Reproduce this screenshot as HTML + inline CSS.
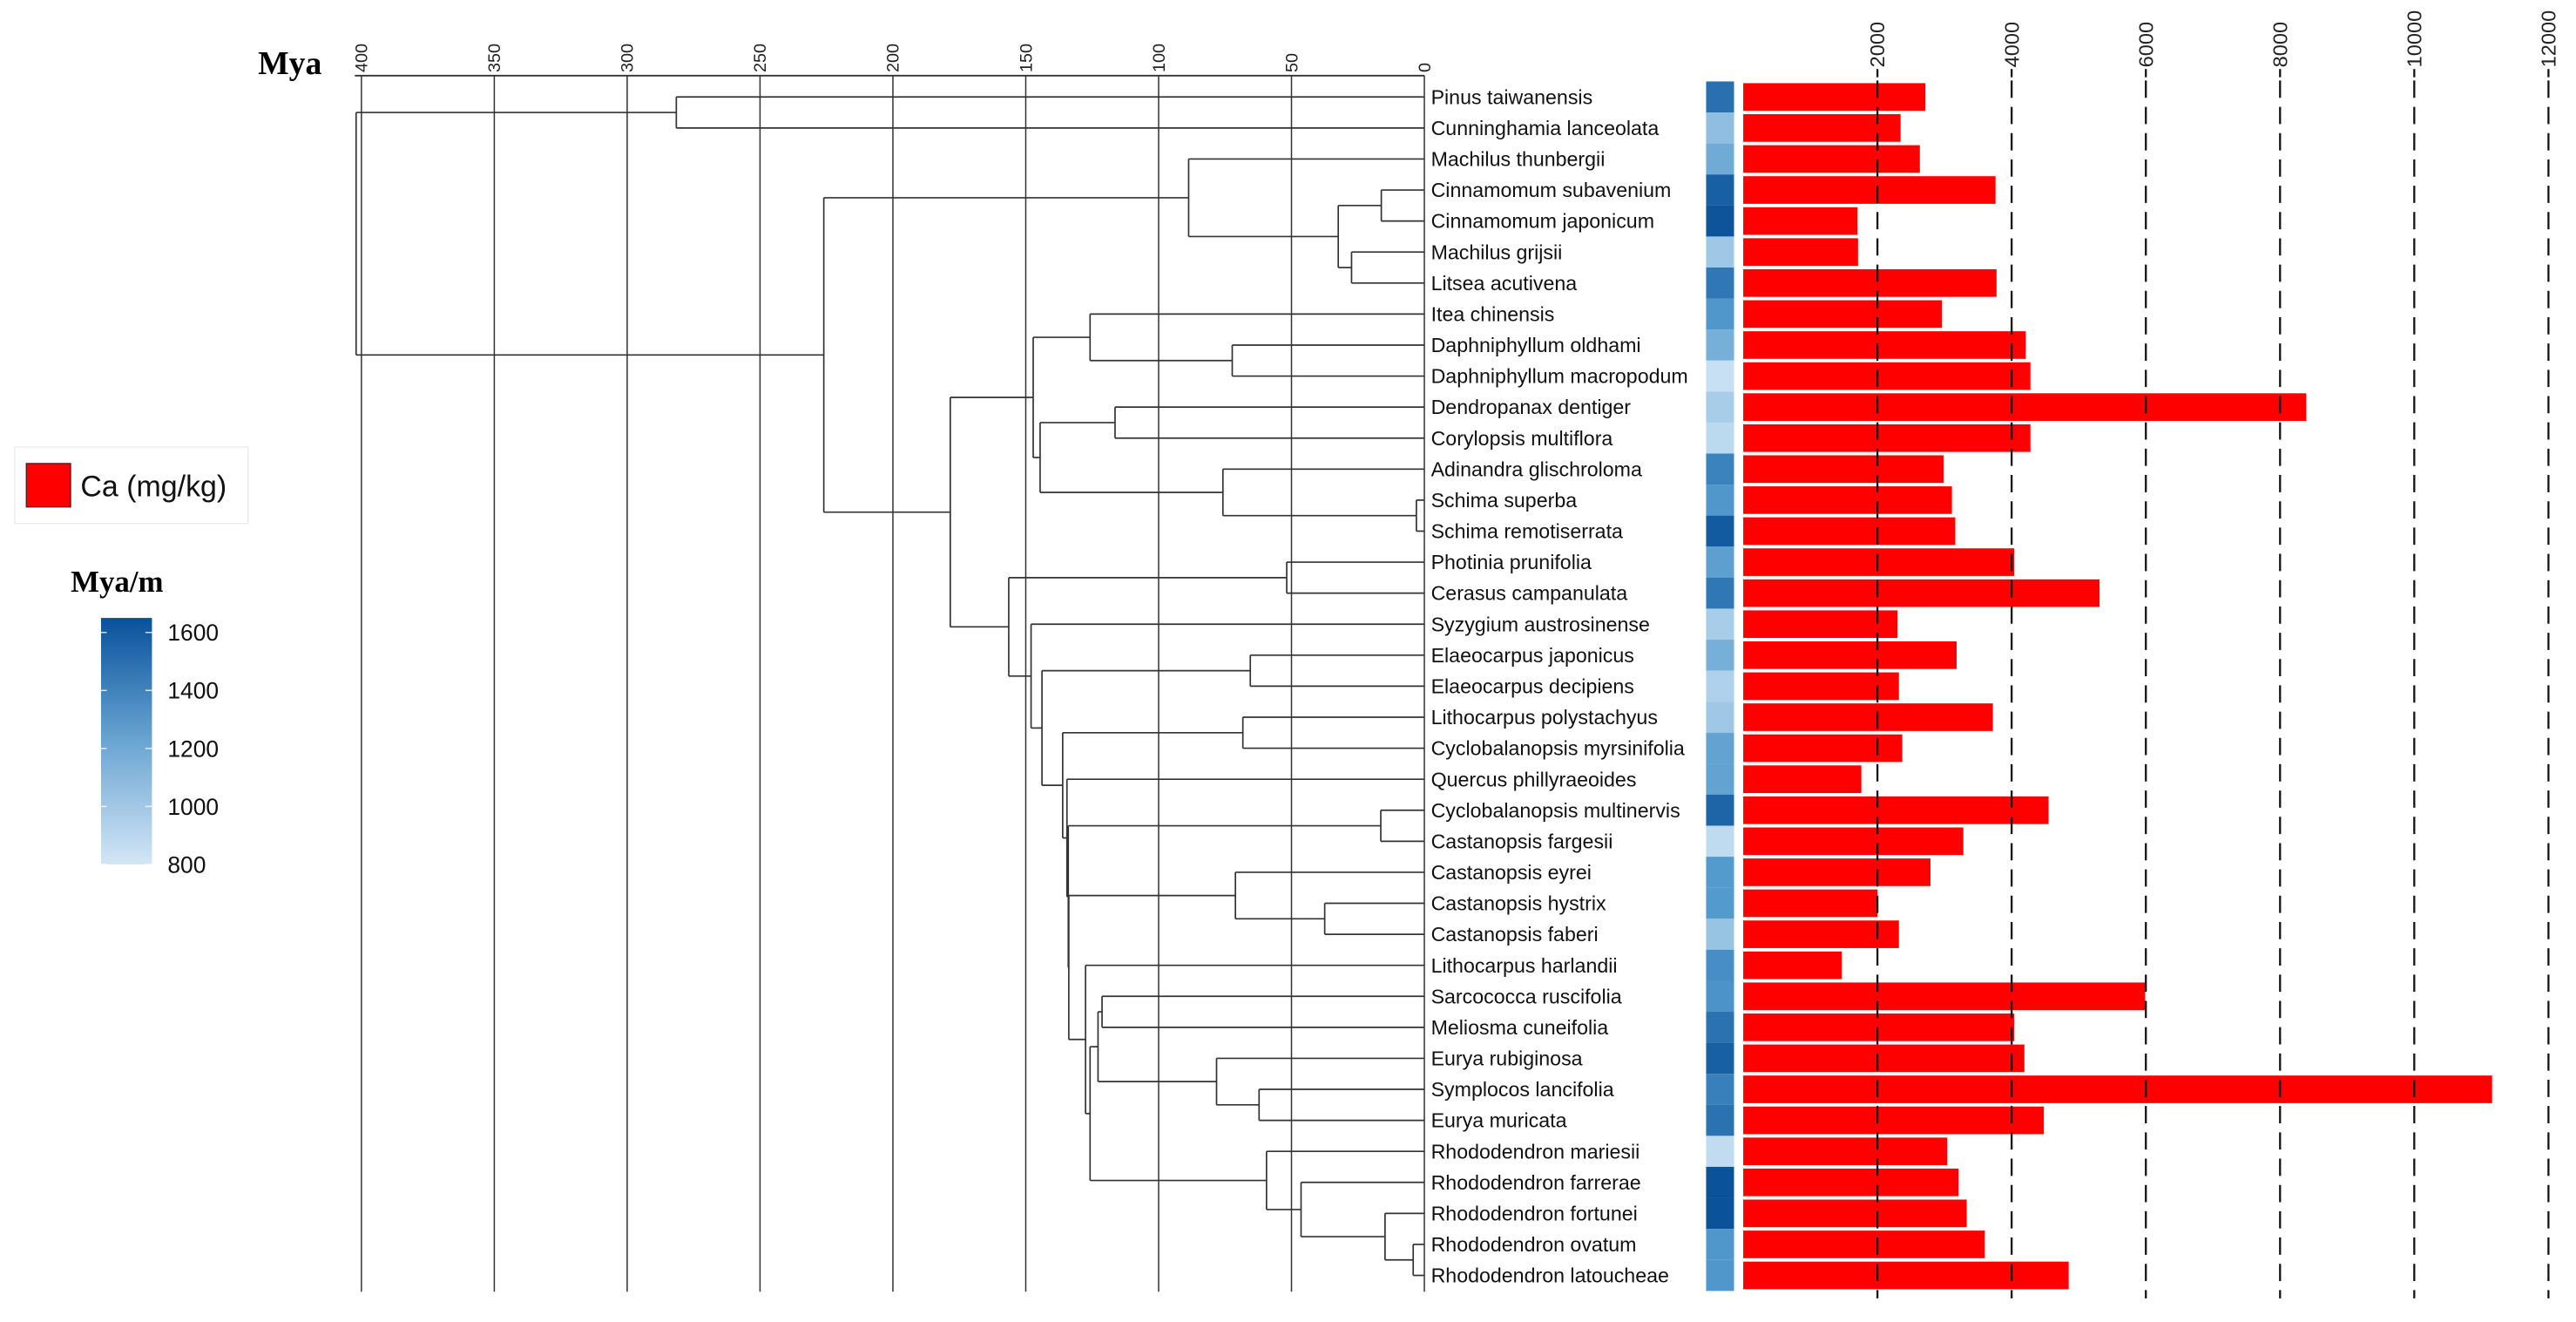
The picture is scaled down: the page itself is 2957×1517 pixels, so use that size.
<!DOCTYPE html>
<html><head><meta charset="utf-8">
<style>
html,body{margin:0;padding:0;background:#fff;}
svg{display:block;}
text{font-family:"Liberation Sans",Arial,sans-serif;}
</style></head>
<body>
<svg id="chart" xmlns="http://www.w3.org/2000/svg" width="2957" height="1517" viewBox="0 0 1568 804.4">
  <rect x="0" y="0" width="1568" height="804.4" fill="#fff"/>
  <g id="grid"></g>
  <g id="tree"></g>
  <g id="labels"></g>
  <g id="heat"></g>
  <g id="bars"></g>
  <g id="baraxis"></g>
  <text x="157" y="45" font-weight="bold" font-size="20" style="font-family:'Liberation Serif',serif">Mya</text>

  <g>
    <rect x="9" y="272" width="142" height="46.5" fill="#fff" stroke="#ececec" stroke-width="0.8"/>
    <rect x="16" y="282" width="27" height="26.5" fill="#ff0000" stroke="#222" stroke-width="0.6"/>
    <text x="49" y="302" font-size="18" fill="#111">Ca (mg/kg)</text>
  </g>

  <defs>
    <linearGradient id="cbar" x1="0" y1="1" x2="0" y2="0">
      <stop offset="0" stop-color="#d3e6f6"/>
      <stop offset="0.5" stop-color="#6aa5d2"/>
      <stop offset="1" stop-color="#08519c"/>
    </linearGradient>
  </defs>
  <g id="colorbar">
    <text x="43" y="360" font-size="18.5" font-weight="bold" style="font-family:'Liberation Serif',serif">Mya/m</text>
    <rect x="61.5" y="376" width="31" height="150" fill="url(#cbar)"/>
  </g>
</svg>
<script>
const NS='http://www.w3.org/2000/svg';
const species=["Pinus taiwanensis","Cunninghamia lanceolata","Machilus thunbergii","Cinnamomum subavenium","Cinnamomum japonicum","Machilus grijsii","Litsea acutivena","Itea chinensis","Daphniphyllum oldhami","Daphniphyllum macropodum","Dendropanax dentiger","Corylopsis multiflora","Adinandra glischroloma","Schima superba","Schima remotiserrata","Photinia prunifolia","Cerasus campanulata","Syzygium austrosinense","Elaeocarpus japonicus","Elaeocarpus decipiens","Lithocarpus polystachyus","Cyclobalanopsis myrsinifolia","Quercus phillyraeoides","Cyclobalanopsis multinervis","Castanopsis fargesii","Castanopsis eyrei","Castanopsis hystrix","Castanopsis faberi","Lithocarpus harlandii","Sarcococca ruscifolia","Meliosma cuneifolia","Eurya rubiginosa","Symplocos lancifolia","Eurya muricata","Rhododendron mariesii","Rhododendron farrerae","Rhododendron fortunei","Rhododendron ovatum","Rhododendron latoucheae"];
const caValues=[2715,2345,2632,3760,1704,1711,3775,2960,4210,4280,8390,4280,2985,3110,3160,4040,5310,2300,3180,2320,3720,2370,1760,4550,3280,2790,2000,2320,1470,5990,4040,4190,11160,4480,3040,3210,3330,3600,4850];
const myaPerM=[1450,1000,1100,1550,1620,950,1400,1200,1080,820,920,860,1330,1200,1580,1160,1400,920,1080,900,950,1140,1140,1520,850,1190,1190,970,1260,1230,1440,1550,1350,1440,840,1640,1640,1200,1200];
const myaTicks=[400,350,300,250,200,150,100,50,0];
const caTicks=[2000,4000,6000,8000,10000,12000];
const cbarTicks=[1600,1400,1200,1000,800];
// tree nodes: [age, child, child] ; numbers = leaf indices
const laur=[88.7,2,[32.4,[16.2,3,4],[27.4,5,6]]];
const cladeA=[147.2,[125.8,7,[72.3,8,9]],[144.6,[116.4,10,11],[75.8,12,[3,13,14]]]];
const rhodo=[59.4,34,[46.4,35,[14.8,36,[4.2,37,38]]]];
const eric=[125.8,[122.8,[121.3,29,30],[78.2,31,[62.2,32,33]]],rhodo];
const n133=[133.8,[71.1,25,[37.5,26,27]],[127.5,28,eric]];
const n134=[134.5,22,[134,[16.4,23,24],n133]];
const n136=[136.1,[68.3,20,21],n134];
const cladeB=[156.4,[51.8,15,16],[148,17,[143.9,[65.5,18,19],n136]]];
const tree=[402,[281.5,0,1],[226,laur,[178.4,cladeA,cladeB]]];

const xMya=a=>867-a*1.6175;
const yRow=i=>59+i*18.87;
const xCa=v=>1061.1+v*0.040845;
function mk(tag,attrs,parent){const e=document.createElementNS(NS,tag);for(const k in attrs)e.setAttribute(k,attrs[k]);parent.appendChild(e);return e;}
const G=id=>document.getElementById(id);

const grid=G('grid');
const ax=mk('line',{x1:216,y1:46,x2:867,y2:46,stroke:'#333','stroke-width':1},grid);


myaTicks.forEach(t=>{
  const x=xMya(t);
  const l=mk('line',{x1:x,y1:46,x2:x,y2:786,stroke:'#333','stroke-width':0.8},grid);
  
  
  const tx=mk('text',{x:0,y:0,'font-size':10.5,fill:'#222',transform:'translate('+(x+3.6)+',44) rotate(-90)'},grid);
  tx.textContent=t;
  
  
});

const tg=G('tree');
function layout(n){
  if(typeof n==='number') return {x:867,y:yRow(n)};
  const kids=n.slice(1).map(layout);
  const x=xMya(n[0]);
  const y0=kids[0].y,y1=kids[kids.length-1].y;
  const v=mk('line',{x1:x,y1:y0,x2:x,y2:y1,stroke:'#333','stroke-width':0.9},tg);
  
  
  kids.forEach(k=>{
    const h=mk('line',{x1:x,y1:k.y,x2:k.x,y2:k.y,stroke:'#333','stroke-width':0.9},tg);
    
    
  });
  return {x:x,y:(y0+y1)/2};
}
layout(tree);

const lg=G('labels'),hg=G('heat'),bg=G('bars');
function heatColor(v){
  const stops=[[800,[206,228,245]],[1200,[80,152,204]],[1650,[8,80,152]]];
  v=Math.max(800,Math.min(1650,v));
  let a=stops[0],b=stops[1];
  if(v>1200){a=stops[1];b=stops[2];}
  const t=(v-a[0])/(b[0]-a[0]);
  const c=a[1].map((c0,i)=>Math.round(c0+(b[1][i]-c0)*t));
  return 'rgb('+c.join(',')+')';
}
species.forEach((s,i)=>{
  const y=yRow(i);
  const t=mk('text',{x:871,y:y+4.3,'font-size':12.3,fill:'#111'},lg);
  t.textContent=s;
  
  
  const h=mk('rect',{x:1038.5,y:y-9.45,width:17,height:18.9,fill:heatColor(myaPerM[i])},hg);
  
  
  const b=mk('rect',{x:1061.1,y:y-8.4,width:xCa(caValues[i])-1061.1,height:16.8,fill:'#ff0000'},bg);
  
  
});

const ba=G('baraxis');
caTicks.forEach(t=>{
  const x=xCa(t);
  const l=mk('line',{x1:x,y1:49,x2:x,y2:790,stroke:'#111','stroke-width':1.2,'stroke-dasharray':'10.5 5.5'},ba);
  
  
  const tk=mk('line',{x1:x,y1:42,x2:x,y2:47,stroke:'#111','stroke-width':1.2},ba);
  
  
  const tx=mk('text',{x:0,y:0,'font-size':12.5,fill:'#222',transform:'translate('+(x+4.3)+',41) rotate(-90)'},ba);
  tx.textContent=t;
  
  
});

const cb=G('colorbar');
cbarTicks.forEach(v=>{
  const y=526-(v-800)/(1650-800)*150;
  [[61.5,65],[88.5,92.5]].forEach(p=>{
    const l=mk('line',{x1:p[0],y1:y,x2:p[1],y2:y,stroke:'#fff','stroke-width':0.8,opacity:0.8},cb);
    
    
  });
  const tx=mk('text',{x:102,y:y+5,'font-size':14,fill:'#111'},cb);
  tx.textContent=v;
  
  
});
</script>
</body></html>
